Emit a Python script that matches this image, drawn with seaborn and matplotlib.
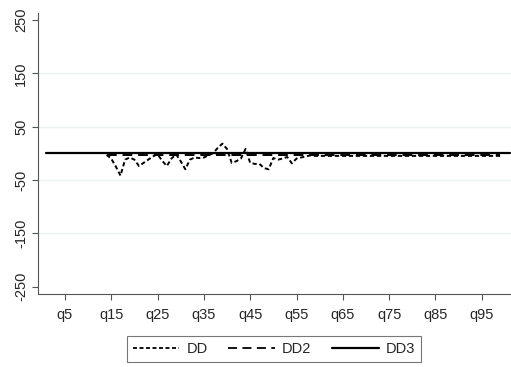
import numpy as np
import pandas as pd
import matplotlib
matplotlib.use("Agg")
import matplotlib.pyplot as plt
import seaborn as sns
from matplotlib.lines import Line2D

# quantiles 1..99 (the zero line DD3 runs on to the right edge)
quantiles = list(range(1, 100))
quantiles_dd3 = list(range(1, 102))

# DD is missing below q14
dd_head = [-3, -10, -25, -42, -12, -8, -12, -24, -18, -12, -6, -2, -14, -24,
           -10, -2, -15, -30, -12, -8, -9, -8, -4, 0, 10, 18, 8, -18, -15,
           -10, 8, -18, -20, -20, -28, -30, -9, -12, -10, -7, -19, -10, -8,
           -6, -4]
dd_tail = [-5] * (99 - 13 - len(dd_head))
dd = [np.nan] * 13 + dd_head + dd_tail
dd2 = [np.nan] * 13 + [-4] * (99 - 13)
dd3 = [0] * 101

tick_q = list(range(5, 100, 10))
tick_labels = ["q%d" % q for q in tick_q]
y_ticks = [250, 150, 50, -50, -150, -250]

df = pd.DataFrame({
    "q": quantiles * 2 + quantiles_dd3,
    "value": dd + dd2 + dd3,
    "series": ["DD"] * 99 + ["DD2"] * 99 + ["DD3"] * 101,
})

sns.set_style("white")
plt.rcParams["font.family"] = ["Liberation Sans", "DejaVu Sans"]

fig = plt.figure(figsize=(5.11, 3.67), dpi=100)
ax = fig.add_axes([38 / 511, 1 - 294 / 367, 1 - 38 / 511, (294 - 13) / 367])

styles = {"DD": (2.2, 1.4), "DD2": (5, 3), "DD3": ""}
widths = {"DD": 1.4, "DD2": 1.4, "DD3": 1.6}
for name in ["DD3", "DD2", "DD"]:
    sub = df[df["series"] == name]
    sns.lineplot(data=sub, x="q", y="value", ax=ax, color="black",
                 lw=widths[name], legend=False)
    if styles[name]:
        ax.lines[-1].set_dashes(styles[name])

for g in [150, 50, -50, -150]:
    ax.axhline(g, color="#eaf2f3", lw=1, zorder=0)

ax.set_xlim(-0.8, 101.3)
ax.set_ylim(-264, 263)
ax.set_xticks(tick_q)
ax.set_xticklabels(tick_labels, fontsize=10.5)
ax.set_yticks(y_ticks)
ax.set_yticklabels([str(v) for v in y_ticks], fontsize=10.5, rotation=90, va="center")
ax.set_xlabel("")
ax.set_ylabel("")
ax.tick_params(axis="both", direction="out", length=4, width=0.8, color="#555555",
               bottom=True, left=True, pad=3)
ax.tick_params(axis="x", pad=6)
for s in ["top", "right"]:
    ax.spines[s].set_visible(False)
for s in ["left", "bottom"]:
    ax.spines[s].set_color("#555555")
    ax.spines[s].set_linewidth(0.8)

handles = [
    Line2D([], [], color="black", lw=1.3, dashes=(2.2, 1.4)),
    Line2D([], [], color="black", lw=1.3, dashes=(5, 3)),
    Line2D([], [], color="black", lw=1.6),
]
leg = fig.legend(handles, ["DD", "DD2", "DD3"], loc="center",
                 bbox_to_anchor=(274 / 511, 1 - 349 / 367), ncol=3,
                 fontsize=10.5, frameon=True, fancybox=False, handlelength=3.2,
                 handletextpad=0.5, columnspacing=1.4, borderpad=0.4)
leg.get_frame().set_edgecolor("#555555")
leg.get_frame().set_linewidth(0.8)

fig.savefig("out.png", dpi=100)
